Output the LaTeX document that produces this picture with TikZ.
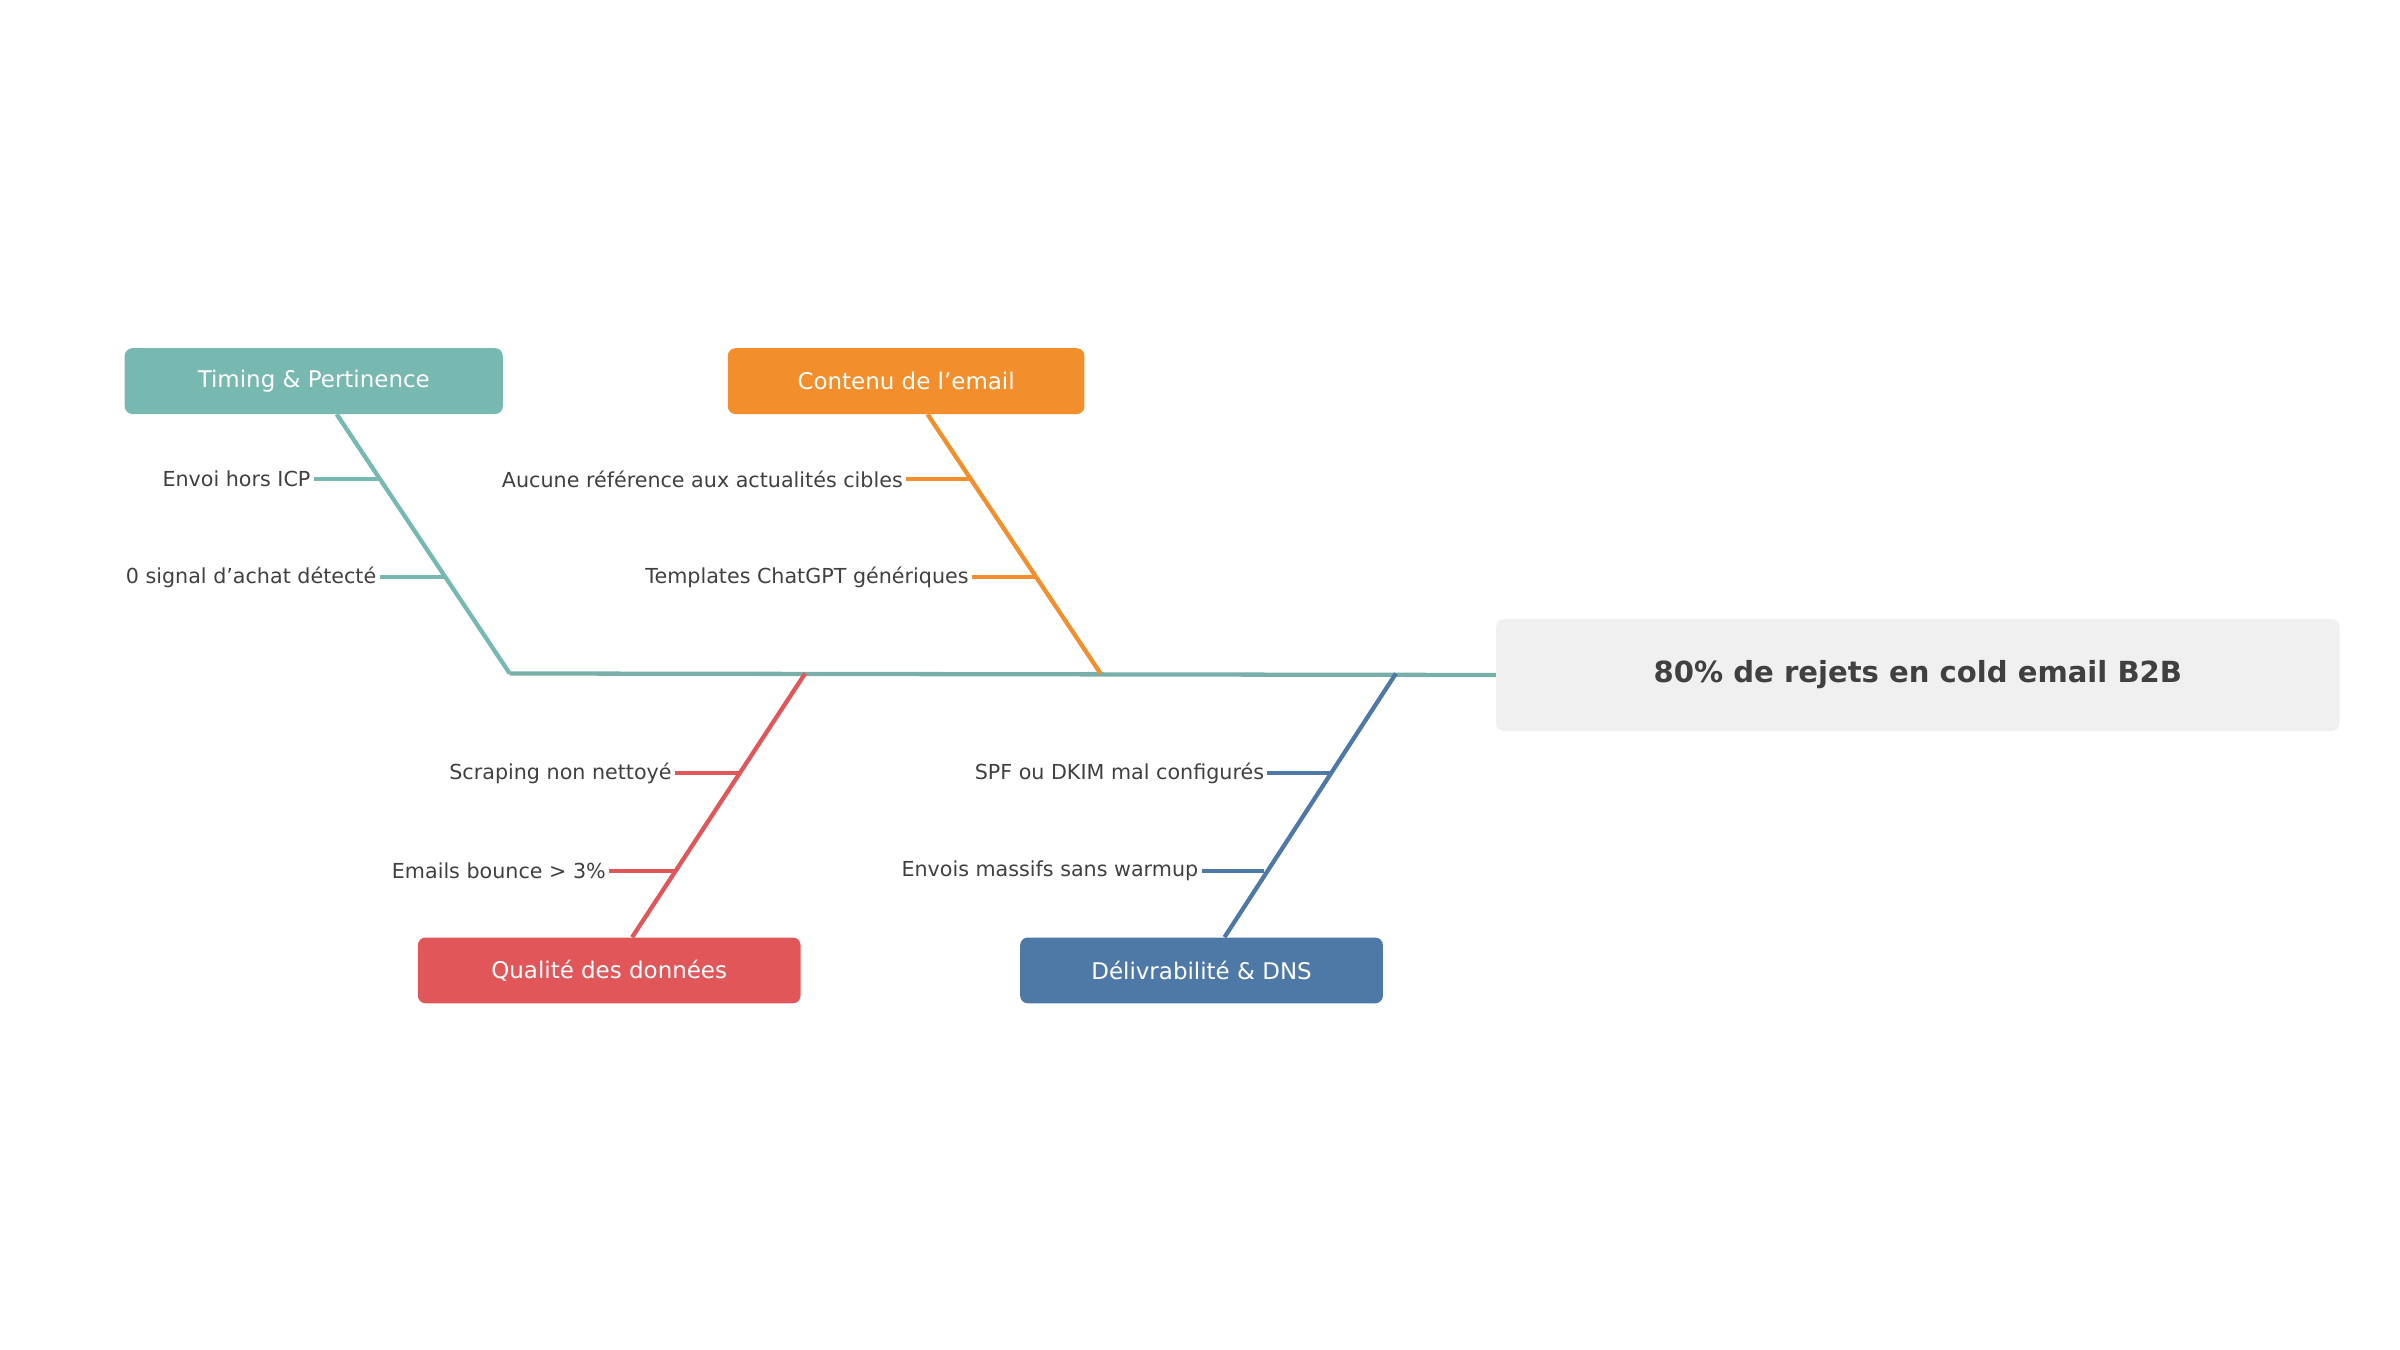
\documentclass[tikz,border=0pt]{standalone}
\usepackage{fontspec}
\setmainfont{DejaVu Sans}
\usepackage{tikz}
\usetikzlibrary{positioning}
\definecolor{cteal}{HTML}{77B8B0}
\definecolor{corange}{HTML}{F28E2B}
\definecolor{cred}{HTML}{E15759}
\definecolor{cblue}{HTML}{4E79A7}
\definecolor{ctext}{HTML}{404040}
\definecolor{chead}{HTML}{EFF0EF}
\tikzset{cat/.style = {rounded corners=5pt,text=white,font=\fontsize{15}{18}\selectfont,minimum height=43pt,inner sep=0pt},
  cause/.style = {text=ctext,font=\fontsize{13.5}{16}\selectfont,anchor=east,inner sep=2pt},
  bone/.style = {line width=2.8pt}}
\begin{document}
\begin{tikzpicture}[x=1pt,y=-1pt]
      \useasboundingbox (0,0) rectangle (1568,882);
      % head
      \node [fill=chead, rounded corners=5pt, minimum width=551pt, minimum height=73pt,
        text=ctext, font=\bfseries\fontsize{19}{22}\selectfont] (head) at (1253,441) {80\% de rejets en cold email B2B};
      \coordinate (tail) at (333,440);
      \draw [bone, cteal!85!gray] (tail) -- (head.west);
      % categories
      \node [cat, fill=cteal, minimum width=247pt] (timing) at (205,249) {Timing \& Pertinence};
      \node [cat, fill=corange, minimum width=233pt] (contenu) at (592,249) {Contenu de l'email};
      \node [cat, fill=cred, minimum width=250pt] (qualite) at (398,634) {Qualité des données};
      \node [cat, fill=cblue, minimum width=237pt] (deliv) at (785,634) {Délivrabilité \& DNS};
      \coordinate (jt) at (333,440);
      \coordinate (jc) at (719,440);
      \coordinate (jq) at (526,440);
      \coordinate (jd) at (912,440);
      \draw [bone, cteal] (timing.south -| 220,0) -- (jt);
      \draw [bone, corange] (contenu.south -| 606,0) -- (jc);
      \draw [bone, cred] (qualite.north -| 413,0) -- (jq);
      \draw [bone, cblue] (deliv.north -| 800,0) -- (jd);
      % causes
      \node [cause] (t1) at (205,313) {Envoi hors ICP};
      \node [cause] (t2) at (248,377) {0 signal d'achat détecté};
      \node [cause] (c1) at (592,313) {Aucune référence aux actualités cibles};
      \node [cause] (c2) at (635,377) {Templates ChatGPT génériques};
      \node [cause] (q1) at (441,505) {Scraping non nettoyé};
      \node [cause] (q2) at (398,569) {Emails bounce > 3\%};
      \node [cause] (d1) at (828,505) {SPF ou DKIM mal configurés};
      \node [cause] (d2) at (785,569) {Envois massifs sans warmup};
      \draw [bone, cteal] (t1.east) -- (247,313);
      \draw [bone, cteal] (t2.east) -- (290,377);
      \draw [bone, corange] (c1.east) -- (634,313);
      \draw [bone, corange] (c2.east) -- (677,377);
      \draw [bone, cred] (q1.east) -- (484,505);
      \draw [bone, cred] (q2.east) -- (441,569);
      \draw [bone, cblue] (d1.east) -- (869,505);
      \draw [bone, cblue] (d2.east) -- (826,569);
\end{tikzpicture}
\end{document}
